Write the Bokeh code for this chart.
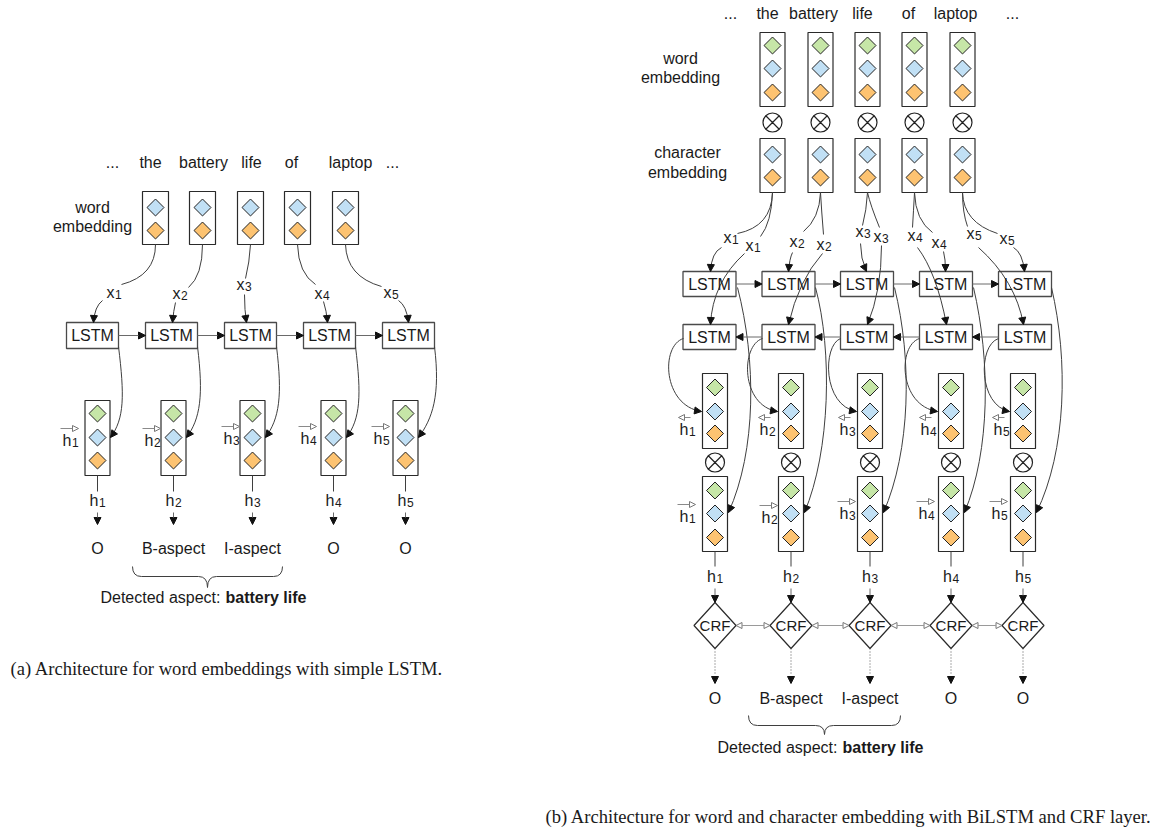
import math
from bokeh.plotting import figure
from bokeh.models import Range1d, Arrow, NormalHead, ColumnDataSource
from bokeh.core.properties import value
from bokeh.embed import file_html
from bokeh.resources import INLINE

# ---------------- content ----------------
words = ["...", "the", "battery", "life", "of", "laptop", "..."]
tags = ["O", "B-aspect", "I-aspect", "O", "O"]
steps = ["1", "2", "3", "4", "5"]
word_emb_label = ["word", "embedding"]
char_emb_label = ["character", "embedding"]
cell_label = "LSTM"
crf_label = "CRF"
detected_prefix = "Detected aspect:"
detected_aspect = "battery life"
caption_a = "(a) Architecture for word embeddings with simple LSTM."
caption_b = "(b) Architecture for word and character embedding with BiLSTM and CRF layer."

# ---------------- layout (pixel positions) ----------------
A_WORD_X = [112, 150, 203, 251, 291, 350, 392]
B_WORD_X = [730, 767, 813, 862, 908, 955, 1012]
A_EMB_X = [155, 202, 250, 297, 345]
A_LSTM_X = [92, 171, 250, 329, 408]
A_H_X = [97, 173, 252, 333, 405]
A_HARR_X = [71, 153, 232, 309, 382]
A_HARR_B = [445, 445, 443, 443, 443]
A_XLAB = [(114, 297), (180, 298), (244, 289), (322, 298), (391, 297)]
A_PATHS = [
    ((155, 244), (155, 275), (121, 284), (102, 300), (94, 306), (93, 322)),
    ((202, 244), (202, 275), (188, 287), (175, 302), (173, 310), (172, 322)),
    ((250, 244), (249, 262), (245, 278), (244, 294), (244, 310), (246, 322)),
    ((297, 244), (298, 273), (315, 284), (323, 301), (326, 310), (327, 322)),
    ((345, 244), (346, 276), (381, 286), (398, 300), (406, 305), (408, 322)),
]

B_EMB_X = [772, 820, 867, 914, 962]
B_LSTM_X = [709, 788, 866.5, 945.5, 1024.5]
B_H_X = [714.5, 790.5, 869.5, 950.5, 1022.5]
B_BACK_LAB = [688, 768, 848, 929, 1002]
B_FWD_LAB = [688, 770, 848, 927, 1000]
B_FWD_B = [521, 522, 518, 518, 518]
B_XLAB = [(731, 242), (753, 250), (797, 246), (824, 249), (863, 236),
          (881, 241), (915, 240), (939, 247), (974, 238), (1007, 243)]
B_XLAB_ID = [0, 0, 1, 1, 2, 2, 3, 3, 4, 4]
B_PATHS = [
    ((772, 192), (771, 226), (737, 233), (721, 247), (711, 252), (710, 271)),
    ((772, 192), (771, 222), (760, 236), (744, 253), (712, 282), (710, 324)),
    ((820, 192), (819, 218), (803, 231), (792, 252), (789, 258), (788, 271)),
    ((820, 192), (821, 210), (823, 234), (822, 253), (798, 280), (788, 324)),
    ((867, 192), (866, 210), (862, 225), (860, 243), (860, 258), (866, 271)),
    ((867, 192), (870, 205), (879, 227), (881, 245), (881, 290), (867, 324)),
    ((914, 192), (913, 210), (912, 227), (917, 247), (936, 272), (946, 324)),
    ((914, 192), (915, 220), (932, 232), (943, 251), (945, 258), (945, 271)),
    ((962, 192), (962, 212), (967, 226), (978, 247), (1015, 280), (1023, 324)),
    ((962, 192), (963, 222), (997, 233), (1013, 247), (1022, 252), (1024, 271)),
]
B_FWD_CURVES = [
    ((737, 287), (756, 360), (756, 450), (728, 512)),
    ((815, 287), (832, 350), (830, 450), (804, 512)),
    ((894, 287), (912, 360), (910, 450), (883, 512)),
    ((973, 287), (990, 360), (990, 450), (964, 512)),
    ((1051, 287), (1068, 360), (1066, 450), (1036, 512)),
]
B_BWD_CURVES = [
    ((683, 338), (660, 345), (662, 405), (701, 411)),
    ((762, 338), (740, 345), (740, 405), (777, 411)),
    ((840, 338), (822, 345), (822, 405), (856, 411)),
    ((919, 338), (897, 345), (898, 405), (937, 411)),
    ((998, 338), (977, 345), (978, 405), (1009, 411)),
]

GREEN, BLUE, ORANGE = "#c6e6a7", "#c1e0f5", "#fdc371"
INK = "#1a1a1a"
BOXC = "#2a2a2a"
LSTMC = "#4a4a4a"
CURVE = "#3f3f3f"
GRAY = "#6a6a6a"
FONT = "Liberation Sans"
TEXT_SHIFT = 0.34   # baseline correction, fraction of font size

p = figure(width=1160, height=830, x_range=Range1d(0, 1160), y_range=Range1d(830, 0),
           output_backend="svg", toolbar_location=None,
           x_axis_location=None, y_axis_location=None, min_border=0)
p.grid.visible = False
p.outline_line_color = None
p.background_fill_color = "white"

# collectors
boxes = dict(l=[], r=[], t=[], b=[])
lstm_boxes = dict(l=[], r=[], t=[], b=[])
diam = dict(x=[], y=[], c=[])
otimes = dict(x=[], y=[])
quads = dict(x0=[], y0=[], x1=[], y1=[], cx=[], cy=[])
beziers = dict(x0=[], y0=[], x1=[], y1=[], cx0=[], cy0=[], cx1=[], cy1=[])
heads = dict(x0=[], y0=[], x1=[], y1=[])          # black heads (no body)
sarrows = dict(x0=[], y0=[], x1=[], y1=[])        # gray body + black head
hollow = dict(x0=[], y0=[], x1=[], y1=[])         # small hollow-head arrows
gsegs = dict(x0=[], y0=[], x1=[], y1=[])          # plain segments
dotted = dict(x0=[], y0=[], x1=[], y1=[])
texts = {}


def add(d, **kw):
    for k, v in kw.items():
        d[k].append(v)


def T(x, y, s, size=16, align="center", style="normal", font=FONT):
    key = (font, size, style, align)
    d = texts.setdefault(key, dict(x=[], y=[], t=[]))
    d["x"].append(x); d["y"].append(y - TEXT_SHIFT * size); d["t"].append(s)


def sublabel(letter, sub, ax, by):
    T(ax, by, letter, 16, "right")
    T(ax + 0.5, by + 1.5, sub, 12, "left")


def head_at(c, e):
    dx, dy = e[0] - c[0], e[1] - c[1]
    L = math.hypot(dx, dy)
    add(heads, x0=e[0] - dx / L * 4, y0=e[1] - dy / L * 4, x1=e[0], y1=e[1])


def emb_box(x, top, bot, ys_cols, hw=12.5):
    add(boxes, l=x - hw, r=x + hw, t=top, b=bot)
    for yy, cc in ys_cols:
        add(diam, x=x, y=yy, c=cc)


def brace(x0, x1, yt, ym, yb, r=9):
    xc = (x0 + x1) / 2
    add(quads, x0=x0, y0=yt, x1=x0 + r, y1=ym, cx=x0, cy=ym)
    add(gsegs, x0=x0 + r, y0=ym, x1=xc - r, y1=ym)
    add(quads, x0=xc - r, y0=ym, x1=xc, y1=yb, cx=xc, cy=ym)
    add(quads, x0=xc, y0=yb, x1=xc + r, y1=ym, cx=xc, cy=ym)
    add(gsegs, x0=xc + r, y0=ym, x1=x1 - r, y1=ym)
    add(quads, x0=x1 - r, y0=ym, x1=x1, y1=yt, cx=x1, cy=ym)


# ================= panel (a) =================
for x, w in zip(A_WORD_X, words):
    T(x, 167, w)
T(92, 212, word_emb_label[0]); T(92, 231, word_emb_label[1])
for x in A_EMB_X:
    emb_box(x, 191, 244, [(207, BLUE), (230, ORANGE)], hw=13)
for i, x in enumerate(A_LSTM_X):
    add(lstm_boxes, l=x - 26, r=x + 26, t=322, b=348)
    T(x, 340.5, cell_label)
    if i < 4:
        add(sarrows, x0=x + 26, y0=335, x1=A_LSTM_X[i + 1] - 26, y1=335)
for i, (s0, c0, e0, s1, c1, e1) in enumerate(A_PATHS):
    add(quads, x0=s0[0], y0=s0[1], x1=e0[0], y1=e0[1], cx=c0[0], cy=c0[1])
    add(quads, x0=s1[0], y0=s1[1], x1=e1[0], y1=e1[1], cx=c1[0], cy=c1[1])
    head_at(c1, e1)
    sublabel("x", steps[i], *A_XLAB[i])
for i, x in enumerate(A_H_X):
    emb_box(x, 400, 475, [(413, GREEN), (437, BLUE), (460, ORANGE)])
    s = A_LSTM_X[i] + 26
    e = x + 13
    P0, P1, P2, P3 = (s, 346), (s + 6, 395), (e + 14, 418), (e, 437)
    add(beziers, x0=P0[0], y0=P0[1], x1=P3[0], y1=P3[1], cx0=P1[0], cy0=P1[1], cx1=P2[0], cy1=P2[1])
    head_at(P2, P3)
    ax, by = A_HARR_X[i], A_HARR_B[i]
    sublabel("h", steps[i], ax, by)
    add(hollow, x0=ax - 11, y0=by - 17, x1=ax + 7, y1=by - 17)
    add(gsegs, x0=x, y0=475, x1=x, y1=491)
    sublabel("h", steps[i], x + 1, 505)
    add(sarrows, x0=x, y0=512, x1=x, y1=524)
    T(x, 553, tags[i])
brace(132, 282, 566, 576, 587)
T(220, 602, detected_prefix, 16, "right")
T(225, 602, detected_aspect, 16, "left", "bold")
T(10, 674, caption_a, 18.6, "left", "normal", "Liberation Serif")

# ================= panel (b) =================
for x, w in zip(B_WORD_X, words):
    T(x, 18, w)
T(680, 63, word_emb_label[0]); T(680, 82, word_emb_label[1])
T(687, 157, char_emb_label[0]); T(687, 177, char_emb_label[1])
for x in B_EMB_X:
    emb_box(x, 32, 106, [(45, GREEN), (68, BLUE), (92, ORANGE)])
    add(otimes, x=x, y=122)
    emb_box(x, 138, 192, [(154, BLUE), (177, ORANGE)])
for i, x in enumerate(B_LSTM_X):
    add(lstm_boxes, l=x - 26.5, r=x + 26.5, t=271, b=296)
    add(lstm_boxes, l=x - 26.5, r=x + 26.5, t=324, b=349)
    T(x, 289.5, cell_label)
    T(x, 342.5, cell_label)
    if i < 4:
        xn = B_LSTM_X[i + 1]
        add(sarrows, x0=x + 26.5, y0=283.5, x1=xn - 26.5, y1=283.5)
        add(sarrows, x0=xn - 26.5, y0=336.5, x1=x + 26.5, y1=336.5)
for j, (s0, c0, e0, s1, c1, e1) in enumerate(B_PATHS):
    add(quads, x0=s0[0], y0=s0[1], x1=e0[0], y1=e0[1], cx=c0[0], cy=c0[1])
    add(quads, x0=s1[0], y0=s1[1], x1=e1[0], y1=e1[1], cx=c1[0], cy=c1[1])
    head_at(c1, e1)
    sublabel("x", steps[B_XLAB_ID[j]], *B_XLAB[j])
for P0, P1, P2, P3 in B_FWD_CURVES + B_BWD_CURVES:
    add(beziers, x0=P0[0], y0=P0[1], x1=P3[0], y1=P3[1], cx0=P1[0], cy0=P1[1], cx1=P2[0], cy1=P2[1])
    head_at(P2, P3)
for i, x in enumerate(B_H_X):
    emb_box(x, 373, 448, [(387, GREEN), (411, BLUE), (433, ORANGE)])
    add(otimes, x=x, y=462)
    emb_box(x, 476, 551, [(490, GREEN), (513, BLUE), (537, ORANGE)])
    ax = B_BACK_LAB[i]
    sublabel("h", steps[i], ax, 434)
    add(hollow, x0=ax + 2, y0=417, x1=ax - 10, y1=417)
    ax, by = B_FWD_LAB[i], B_FWD_B[i]
    sublabel("h", steps[i], ax, by)
    add(hollow, x0=ax - 11, y0=by - 17, x1=ax + 7, y1=by - 17)
    add(gsegs, x0=x, y0=551, x1=x, y1=566)
    sublabel("h", steps[i], x + 1, 581)
    add(sarrows, x0=x, y0=588, x1=x, y1=602)
    add(dotted, x0=x, y0=648, x1=x, y1=674)
    add(heads, x0=x, y0=676, x1=x, y1=683)
    T(x, 703, tags[i])
brace(748, 900, 715, 725, 734)
T(837, 752, detected_prefix, 16, "right")
T(842, 752, detected_aspect, 16, "left", "bold")
T(545, 822, caption_b, 18.6, "left", "normal", "Liberation Serif")

# ================= draw =================
p.quad(left="l", right="r", top="t", bottom="b", source=ColumnDataSource(boxes),
       fill_color="white", line_color=BOXC, line_width=1.2)
p.quad(left="l", right="r", top="t", bottom="b", source=ColumnDataSource(lstm_boxes),
       fill_color="white", line_color=LSTMC, line_width=1.3)
crf_xs = [[x - 21, x, x + 21, x] for x in B_H_X]
crf_ys = [[625, 602, 625, 648] for _ in B_H_X]
p.patches(xs=crf_xs, ys=crf_ys, fill_color="white", line_color=BOXC, line_width=1.2)
for x in B_H_X:
    T(x, 630.5, crf_label, 15)

p.scatter(x="x", y="y", fill_color="c", source=ColumnDataSource(diam), marker="square",
          angle=math.pi / 4, size=12, line_color="#222222", line_width=1)
p.scatter(x="x", y="y", source=ColumnDataSource(otimes), marker="circle_x", size=19,
          fill_color="white", line_color="#222222", line_width=1.2)

p.quadratic(x0="x0", y0="y0", x1="x1", y1="y1", cx="cx", cy="cy",
            source=ColumnDataSource(quads), line_color=CURVE, line_width=1)
p.bezier(x0="x0", y0="y0", x1="x1", y1="y1", cx0="cx0", cy0="cy0", cx1="cx1", cy1="cy1",
         source=ColumnDataSource(beziers), line_color=CURVE, line_width=1)
p.segment(x0="x0", y0="y0", x1="x1", y1="y1", source=ColumnDataSource(gsegs),
          line_color=CURVE, line_width=1)
p.segment(x0="x0", y0="y0", x1="x1", y1="y1", source=ColumnDataSource(dotted),
          line_color="#555555", line_width=1, line_dash="1 2")

p.add_layout(Arrow(end=NormalHead(size=7, fill_color="#111111", line_color="#111111", line_width=1),
                   source=ColumnDataSource(heads), x_start="x0", y_start="y0", x_end="x1", y_end="y1",
                   line_alpha=0))
p.add_layout(Arrow(end=NormalHead(size=7, fill_color="#111111", line_color="#111111", line_width=1),
                   source=ColumnDataSource(sarrows), x_start="x0", y_start="y0", x_end="x1", y_end="y1",
                   line_color=GRAY, line_width=1))
p.add_layout(Arrow(end=NormalHead(size=6, fill_color="white", line_color="#777777", line_width=1),
                   source=ColumnDataSource(hollow), x_start="x0", y_start="y0", x_end="x1", y_end="y1",
                   line_color="#8a8a8a", line_width=1))
crf_links = dict(x0=[], y0=[], x1=[], y1=[])
for i in range(4):
    add(crf_links, x0=B_H_X[i] + 21, y0=625, x1=B_H_X[i + 1] - 21, y1=625)
p.add_layout(Arrow(start=NormalHead(size=6, fill_color="white", line_color="#777777", line_width=1),
                   end=NormalHead(size=6, fill_color="white", line_color="#777777", line_width=1),
                   source=ColumnDataSource(crf_links), x_start="x0", y_start="y0", x_end="x1", y_end="y1",
                   line_color="#9a9a9a", line_width=1))

for (font, size, style, align), d in texts.items():
    p.text(x="x", y="y", text="t", source=ColumnDataSource(d), text_font=value(font),
           text_font_size=f"{size}px", text_font_style=style, text_align=align,
           text_baseline="alphabetic", text_color=INK)

open("out.html", "w").write(file_html(p, INLINE))
